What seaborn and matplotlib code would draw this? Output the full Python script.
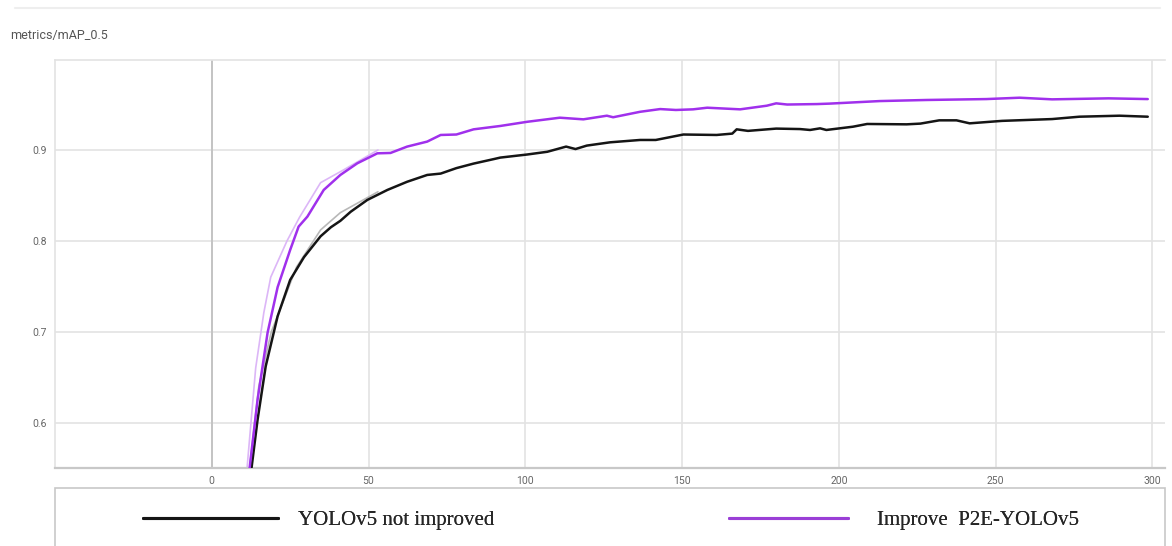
import numpy as np
import pandas as pd
import matplotlib
matplotlib.use("Agg")
import matplotlib.pyplot as plt
import seaborn as sns
from matplotlib.lines import Line2D
from matplotlib.patches import Rectangle

# ---------------- data ----------------
title_text = "metrics/mAP_0.5"
series_names = ["YOLOv5 not improved", "Improve  P2E-YOLOv5"]

base_epoch = [12.6, 14.6, 17.2, 21, 25, 29.4, 34.7, 38, 41, 44.3, 49.6, 56, 62.3,
              68.7, 73, 78, 83.5, 90, 92, 100.6, 107, 113, 116, 119.6, 127, 136.6,
              141.6, 150.4, 161, 166, 167.4, 171, 180, 187.6, 190.8, 194, 196,
              204.5, 209, 221.6, 226, 232, 237.5, 241.7, 252, 268, 276.7, 289.5,
              298.5]
base_map = [0.548, 0.603, 0.662, 0.717, 0.757, 0.782, 0.805, 0.815, 0.822, 0.832,
            0.845, 0.856, 0.865, 0.8725, 0.874, 0.880, 0.885, 0.890, 0.8916, 0.895,
            0.898, 0.9037, 0.901, 0.9048, 0.9084, 0.911, 0.911, 0.917, 0.9165,
            0.918, 0.9227, 0.921, 0.9235, 0.923, 0.922, 0.9238, 0.922, 0.9256,
            0.9286, 0.9282, 0.929, 0.9326, 0.9326, 0.9293, 0.932, 0.934, 0.9366,
            0.9377, 0.9366]

p2e_epoch = [12.0, 14.6, 17.8, 21, 25, 27.7, 30.5, 35.7, 41, 46.4, 52.8, 57, 62.3,
             68.7, 73, 78, 83.5, 92, 100.6, 111, 118.5, 126, 128, 136.6, 143, 148,
             153.5, 158, 168.5, 177, 180, 183.5, 193, 197, 213, 228, 247, 257.6,
             268, 286, 298.5]
p2e_map = [0.548, 0.625, 0.699, 0.749, 0.790, 0.8157, 0.8267, 0.856, 0.8725,
           0.8853, 0.8963, 0.8967, 0.9037, 0.9092, 0.9165, 0.917, 0.9227, 0.9264,
           0.931, 0.9355, 0.9337, 0.9377, 0.936, 0.942, 0.945, 0.944, 0.9447,
           0.9465, 0.9447, 0.9487, 0.9513, 0.950, 0.9505, 0.951, 0.9538, 0.955,
           0.956, 0.9575, 0.9557, 0.9568, 0.956]

# faint raw (unsmoothed) traces, visible in the early epochs
base_raw_epoch = [12.0, 15, 19, 23, 27, 34.7, 41, 53]
base_raw_map = [0.548, 0.640, 0.700, 0.735, 0.771, 0.812, 0.831, 0.854]
p2e_raw_epoch = [11.2, 14, 16.6, 18.8, 24, 28, 34.7, 42, 53]
p2e_raw_map = [0.548, 0.660, 0.721, 0.760, 0.800, 0.826, 0.864, 0.878, 0.900]

x_ticks = [0, 50, 100, 150, 200, 250, 300]
y_ticks = [0.6, 0.7, 0.8, 0.9]

# ---------------- styling ----------------
sns.set_theme(style="white")
W, H = 1172, 546
fig = plt.figure(figsize=(W / 100, H / 100), dpi=100)
fig.patch.set_facecolor("white")

ax = fig.add_axes([55 / W, 1 - 468 / H, 1110 / W, 408 / H])

black_c = "#151515"
purple_c = "#a030ec"
grey_raw = "#b8b8b8"
purple_raw = "#dcb6f7"

raw_df = pd.concat([
    pd.DataFrame({"epoch": base_raw_epoch, "mAP": base_raw_map, "run": series_names[0]}),
    pd.DataFrame({"epoch": p2e_raw_epoch, "mAP": p2e_raw_map, "run": series_names[1]}),
])
df = pd.concat([
    pd.DataFrame({"epoch": base_epoch, "mAP": base_map, "run": series_names[0]}),
    pd.DataFrame({"epoch": p2e_epoch, "mAP": p2e_map, "run": series_names[1]}),
])

sns.lineplot(data=raw_df, x="epoch", y="mAP", hue="run", sort=False,
             palette={series_names[0]: grey_raw, series_names[1]: purple_raw},
             linewidth=1.2, legend=False, ax=ax, zorder=2)
sns.lineplot(data=df, x="epoch", y="mAP", hue="run", sort=False,
             palette={series_names[0]: black_c, series_names[1]: purple_c},
             linewidth=1.8, legend=False, ax=ax, zorder=3)

ax.set_xlim(-50, 304)
ax.set_ylim(0.55, 0.999)
ax.set_xticks(x_ticks)
ax.set_yticks(y_ticks)
ax.set_xticklabels([str(t) for t in x_ticks])
ax.set_yticklabels([f"{t:.1f}" for t in y_ticks])
ax.set_xlabel("")
ax.set_ylabel("")
ax.tick_params(axis="both", length=0, labelsize=7.5, labelcolor="#666666", pad=6)
for lab in ax.get_xticklabels() + ax.get_yticklabels():
    lab.set_fontfamily("Roboto")

ax.grid(True, color="#e3e3e3", linewidth=1.2)
ax.set_axisbelow(True)
ax.axvline(0, color="#c4c4c4", linewidth=1.4, zorder=1)

for side in ["left", "top"]:
    ax.spines[side].set_visible(True)
    ax.spines[side].set_color("#e3e3e3")
    ax.spines[side].set_linewidth(1.2)
ax.spines["right"].set_visible(False)
ax.spines["bottom"].set_color("#c8c8c8")
ax.spines["bottom"].set_linewidth(1.6)

# title and top divider
fig.text(10 / W, 1 - 35 / H, title_text, fontsize=9, color="#555555",
         va="center", ha="left", fontfamily="Roboto")
fig.add_artist(Line2D([15 / W, 1160 / W], [1 - 8 / H, 1 - 8 / H],
                      color="#eeeeee", linewidth=1.5, transform=fig.transFigure))

# legend box below the plot
fig.add_artist(Rectangle((55 / W, -0.05), 1110 / W, 0.05 + (546 - 488) / H,
                         transform=fig.transFigure, fill=False,
                         edgecolor="#c8c8c8", linewidth=1.2))
leg_y = 1 - 520 / H
handles = [Line2D([], [], color=black_c, linewidth=2.2),
           Line2D([], [], color="#9a3fd6", linewidth=2.2)]
anchors = [143 / W, 729 / W]
hlens = [6.5, 5.7]
pads = [0.95, 1.4]
for h, name, ax0, hl, tp in zip(handles, series_names, anchors, hlens, pads):
    lg = fig.legend([h], [name], loc="center left", bbox_to_anchor=(ax0, leg_y),
                    frameon=False, handlelength=hl, handletextpad=tp,
                    borderpad=0, borderaxespad=0,
                    prop={"family": "Liberation Serif", "size": 15})
    fig.add_artist(lg)

fig.savefig("out.png", dpi=100, facecolor="white")
